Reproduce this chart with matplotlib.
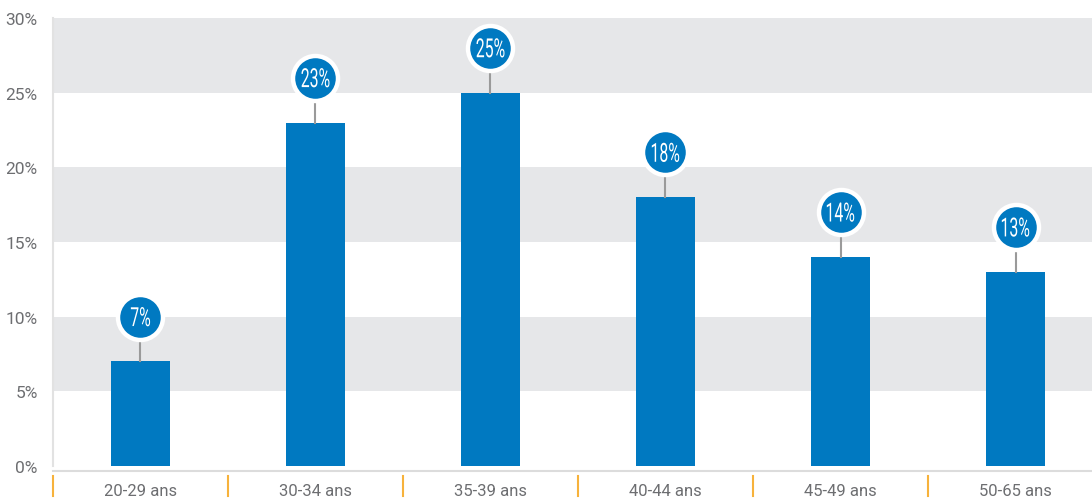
import matplotlib.pyplot as plt
import matplotlib as mpl
from matplotlib.transforms import blended_transform_factory, Affine2D
from matplotlib.textpath import TextPath
from matplotlib.font_manager import FontProperties
from matplotlib.patches import PathPatch

mpl.rcParams['font.family'] = ['Roboto', 'DejaVu Sans']

# data
categories = ['20-29 ans', '30-34 ans', '35-39 ans', '40-44 ans', '45-49 ans', '50-65 ans']
values = [7, 23, 25, 18, 14, 13]
yticks = [0, 5, 10, 15, 20, 25, 30]

blue = '#0079c1'
band = '#e6e7e9'
grey_txt = '#6d6e71'
DPI = 100

fig = plt.figure(figsize=(10.92, 5.02), dpi=DPI)
ax = fig.add_axes([0.0485, 0.0697, 0.9515, 0.8925])

x = list(range(len(categories)))
ax.set_xlim(-0.5, 5.437)
ax.set_ylim(0, 30)

# alternating bands
for lo in range(0, 30, 5):
    if (lo // 5) % 2 == 1:
        ax.axhspan(lo, lo + 5, color=band, lw=0, zorder=0)

ax.bar(x, values, width=0.34, color=blue, zorder=2)

# bubbles with stems, condensed label text built from a squeezed TextPath
off = 3.0
fp = FontProperties(family='Roboto')
for xi, v in zip(x, values):
    ax.plot([xi, xi], [v, v + off], color='#9a9a9a', lw=1.5, zorder=3)
    ax.scatter([xi], [v + off], s=1050, color=blue, edgecolors='white',
               linewidths=3.2, zorder=4, clip_on=False)
    tp = TextPath((0, 0), f'{v}%', size=19, prop=fp)
    bb = tp.get_extents()
    cx, cy = ax.transData.transform((xi, v + off))
    tr = (Affine2D().translate(-(bb.x0 + bb.x1) / 2, -(bb.y0 + bb.y1) / 2)
          .scale(0.6 * DPI / 72, DPI / 72).translate(cx, cy))
    ax.add_patch(PathPatch(tp, transform=tr, facecolor='white', lw=0,
                           zorder=5, clip_on=False))

for s in ['top', 'right', 'bottom']:
    ax.spines[s].set_visible(False)
ax.spines['left'].set_color('#e2e2e2')
ax.spines['left'].set_linewidth(1.5)

ax.set_yticks(yticks)
ax.set_yticklabels([f'{t}%' for t in yticks])
ax.tick_params(axis='y', length=0, pad=11, labelsize=12.5, labelcolor=grey_txt)

ax.set_xticks(x)
ax.set_xticklabels(categories)
ax.tick_params(axis='x', length=0, pad=12, labelsize=12, labelcolor=grey_txt)

# baseline under the axis and orange separators
tr = blended_transform_factory(ax.transData, ax.transAxes)
ax.plot([-0.5, 5.437], [-0.011, -0.011], transform=tr, color='#dcdcdc',
        lw=1.5, clip_on=False)
for b in range(len(categories)):
    ax.plot([b - 0.5, b - 0.5], [-0.023, -0.067], transform=tr,
            color='#f7b23b', lw=1.5, clip_on=False)

fig.savefig('out.png', dpi=DPI)
